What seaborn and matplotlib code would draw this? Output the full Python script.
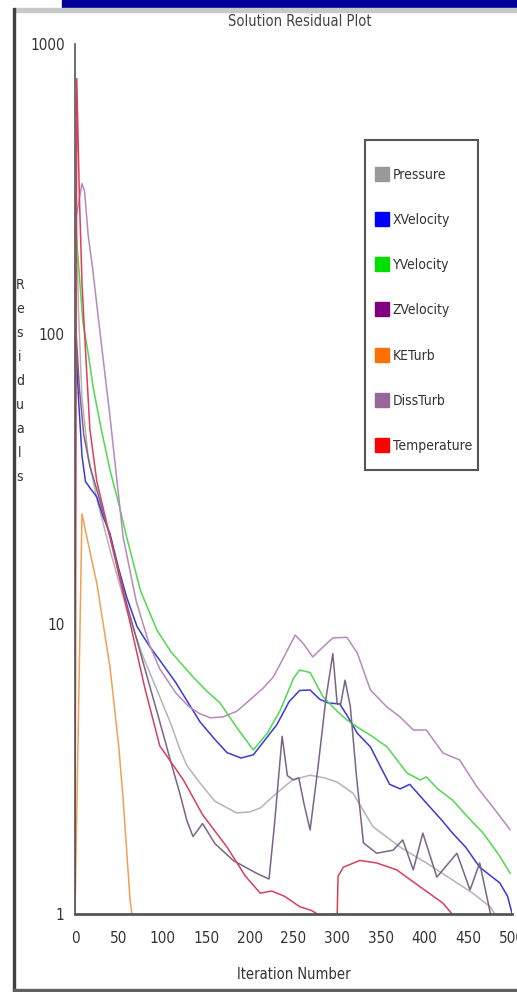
import pandas as pd
import seaborn as sns
import matplotlib.pyplot as plt
from matplotlib.lines import Line2D
from matplotlib.patches import Rectangle
from matplotlib import font_manager

# residual histories: (iteration, residual)
pressure_it = [1, 4, 8, 15, 25, 40, 60, 78, 94, 110, 120, 128, 143, 160, 185, 200, 212, 230, 249, 269, 285, 300, 318, 341, 372, 402, 432, 455, 475, 485]
pressure_res = [300, 120, 60, 38, 27, 18, 11, 7.7, 5.9, 4.5, 3.7, 3.25, 2.83, 2.45, 2.23, 2.25, 2.32, 2.6, 2.9, 3.01, 2.95, 2.85, 2.61, 2.0, 1.7, 1.5, 1.31, 1.18, 1.06, 0.95]

xvel_it = [1, 4, 8, 12, 17, 25, 32, 40, 50, 59, 71, 85, 97, 115, 143, 160, 174, 190, 204, 215, 231, 245, 257, 269, 280, 290, 303, 312, 323, 338, 350, 360, 372, 383, 406, 420, 432, 447, 463, 486, 495, 501]
xvel_res = [95, 60, 38, 31, 29.5, 27.4, 23.5, 20.5, 15.5, 12.4, 9.8, 8.4, 7.5, 6.3, 4.6, 4.0, 3.6, 3.45, 3.54, 3.9, 4.5, 5.4, 5.9, 5.92, 5.5, 5.34, 5.3, 4.8, 4.2, 3.77, 3.2, 2.8, 2.7, 2.8, 2.34, 2.1, 1.9, 1.7, 1.45, 1.28, 1.15, 0.98]

yvel_it = [1, 9, 14, 21, 30, 40, 50, 59, 75, 94, 110, 135, 150, 166, 185, 204, 220, 235, 250, 257, 269, 284, 300, 311, 323, 340, 357, 380, 395, 402, 415, 432, 450, 467, 485, 498]
yvel_res = [230, 110, 90, 65, 47, 34, 26, 20, 13, 9.5, 8.0, 6.57, 5.9, 5.34, 4.4, 3.68, 4.2, 5.05, 6.5, 6.94, 6.8, 5.6, 5.0, 4.67, 4.41, 4.1, 3.77, 3.06, 2.9, 2.97, 2.7, 2.47, 2.15, 1.9, 1.6, 1.38]

zvel_it = [1, 5, 10, 17, 25, 40, 60, 80, 97, 109, 120, 128, 135, 146, 160, 181, 208, 222, 228, 237, 243, 250, 256, 262, 269, 278, 287, 295, 300, 304, 309, 315, 322, 330, 345, 364, 375, 387, 398, 414, 437, 452, 463, 477]
zvel_res = [105, 65, 45, 35, 29, 20, 11.5, 7.0, 4.6, 3.4, 2.6, 2.1, 1.85, 2.05, 1.75, 1.53, 1.38, 1.32, 2.0, 4.1, 3.0, 2.9, 2.95, 2.4, 1.95, 3.2, 5.5, 7.9, 5.3, 5.3, 6.4, 5.2, 3.0, 1.76, 1.62, 1.66, 1.8, 1.42, 1.9, 1.34, 1.62, 1.21, 1.5, 0.95]

keturb_it = [0, 8, 15, 25, 40, 50, 55, 63, 67]
keturb_res = [1.0, 24, 19, 13.8, 7.1, 3.8, 2.5, 1.12, 0.9]

dissturb_it = [1, 8, 11, 15, 20, 28, 40, 55, 70, 85, 97, 115, 130, 143, 155, 169, 185, 200, 215, 227, 240, 252, 262, 272, 285, 295, 311, 323, 338, 357, 372, 387, 402, 421, 440, 460, 478, 498]
dissturb_res = [250, 330, 310, 220, 170, 105, 52, 20, 12, 8.5, 7.0, 5.8, 5.2, 4.9, 4.75, 4.78, 5.0, 5.47, 6.0, 6.57, 7.8, 9.16, 8.5, 7.7, 8.4, 8.95, 9.0, 7.94, 5.92, 5.17, 4.78, 4.31, 4.31, 3.59, 3.4, 2.74, 2.34, 1.95]

temp_it = [0, 2, 5, 8, 11, 17, 25, 40, 63, 80, 97, 124, 146, 174, 195, 212, 225, 240, 257, 270, 280, 300, 301, 307, 326, 345, 368, 395, 421, 435]
temp_res = [1.0, 760, 300, 150, 100, 47, 31, 20, 10.1, 6.0, 3.8, 2.9, 2.2, 1.7, 1.35, 1.18, 1.2, 1.15, 1.06, 1.03, 0.99, 1.0, 1.35, 1.45, 1.53, 1.5, 1.42, 1.24, 1.09, 0.97]

series_names = ["Pressure", "XVelocity", "YVelocity", "ZVelocity", "KETurb", "DissTurb", "Temperature"]
line_colors = ["#b4b4b4", "#3a3ad0", "#50d850", "#7a6488", "#f0a050", "#b888c0", "#d8405a"]
legend_colors = ["#999999", "#0000ff", "#00e000", "#800080", "#ff7000", "#996699", "#ff0000"]

iters = [pressure_it, xvel_it, yvel_it, zvel_it, keturb_it, dissturb_it, temp_it]
resids = [pressure_res, xvel_res, yvel_res, zvel_res, keturb_res, dissturb_res, temp_res]

frames = []
for name, it, res in zip(series_names, iters, resids):
    frames.append(pd.DataFrame({"iteration": it, "residual": res, "series": name}))
df = pd.concat(frames, ignore_index=True)

sns.set_theme(style="white")
names = {f.name for f in font_manager.fontManager.ttflist}
if "Liberation Sans Narrow" in names:
    plt.rcParams["font.family"] = ["Liberation Sans Narrow", "DejaVu Sans"]
else:
    # fall back to the condensed DejaVu face
    plt.rcParams["font.family"] = ["DejaVu Sans"]
    plt.rcParams["font.stretch"] = "condensed"

W, H = 517, 992
fig = plt.figure(figsize=(W / 100, H / 100), dpi=100)
ax = fig.add_axes([75 / W, 1 - 914 / H, 437 / W, 870 / H])

sns.lineplot(data=df, x="iteration", y="residual", hue="series", hue_order=series_names,
             palette=dict(zip(series_names, line_colors)), estimator=None, sort=False,
             linewidth=1.1, legend=False, ax=ax)

ax.set_yscale("log")
ax.set_ylim(1, 1000)
ax.set_xlim(0, 500)
ax.set_yticks([1, 10, 100, 1000])
ax.set_yticklabels(["1", "10", "100", "1000"])
ax.minorticks_off()
ax.set_xticks(range(0, 501, 50))
ax.tick_params(axis="both", direction="inout", length=9, width=1, colors="#444444",
               labelsize=11, labelcolor="#333333")
ax.tick_params(axis="x", pad=8)
ax.tick_params(axis="y", pad=3)
ax.set_xlabel("Iteration Number", fontsize=10.5, color="#333333", labelpad=15)
ax.set_ylabel("")

for side in ["top", "right"]:
    ax.spines[side].set_visible(False)
ax.spines["left"].set_color("#555555")
ax.spines["left"].set_linewidth(1.2)
ax.spines["bottom"].set_color("#555555")
ax.spines["bottom"].set_linewidth(2.0)

# stacked y label and title
fig.text(20 / W, 1 - 381 / H, "\n".join("Residuals"), ha="center", va="center",
         fontsize=10, color="#333333", linespacing=1.9)
fig.text(300 / W, 1 - 22 / H, "Solution Residual Plot", ha="center", va="center",
         fontsize=10.5, color="#444444")

# legend box drawn separately so its size matches the reference
ax.add_patch(Rectangle((0.664, 0.5103), 0.258, 0.3794, transform=ax.transAxes,
                       facecolor="white", edgecolor="#555555", linewidth=1.5, zorder=4))
handles = [Line2D([], [], marker="s", linestyle="none", markersize=9.5,
                  markerfacecolor=c, markeredgecolor=c) for c in legend_colors]
leg = ax.legend(handles, series_names, loc="upper left", bbox_to_anchor=(0.690, 0.858),
                fontsize=10, frameon=False, labelspacing=2.25, borderpad=0,
                handlelength=0.8, handletextpad=0.35, borderaxespad=0,
                labelcolor="#333333")
leg.set_zorder(5)

# screenshot frame: navy bar, gray rule, left/bottom borders
fig.patches.append(Rectangle((62 / W, 1 - 7 / H), 1, 7 / H, transform=fig.transFigure,
                             color="#000099", zorder=5))
fig.patches.append(Rectangle((14 / W, 1 - 12 / H), 1, 4 / H, transform=fig.transFigure,
                             color="#c8c8c8", zorder=5))
fig.patches.append(Rectangle((13 / W, 1 - 991 / H), 2 / W, 983 / H, transform=fig.transFigure,
                             color="#404040", zorder=5))
fig.patches.append(Rectangle((13 / W, 1 - 991 / H), 1, 2 / H, transform=fig.transFigure,
                             color="#606060", zorder=5))

fig.savefig("out.png", dpi=100)
